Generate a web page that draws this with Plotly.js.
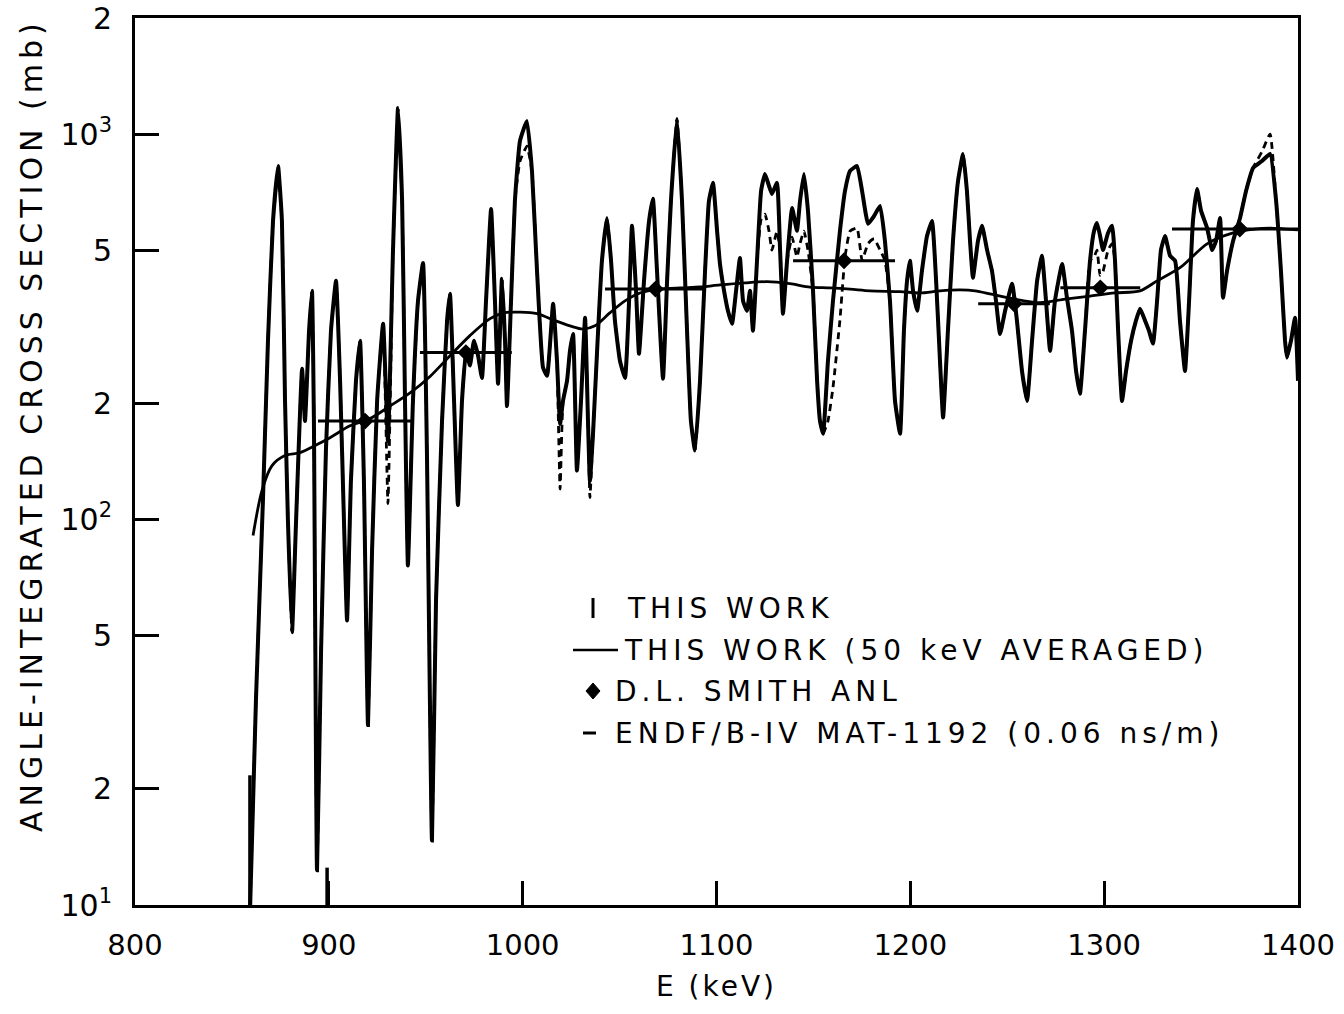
<!DOCTYPE html>
<html>
<head>
<meta charset="utf-8">
<script src="https://cdn.plot.ly/plotly-3.0.1.min.js"></script>
<style>
html,body{margin:0;padding:0;background:#fff;}
#chart{width:1344px;height:1014px;}
.xtitle{letter-spacing:3px;}
.annotation-text{letter-spacing:5px;}
</style>
</head>
<body>
<div id="chart"></div>
<script>
// ---- data ----
const thisWorkE = [859.3,862.4,866.0,868.6,871.2,873.8,875.8,877.4,878.9,881.0,883.1,886.2,887.7,889.8,891.3,892.3,893.9,896.0,898.5,901.1,903.7,905.8,907.8,909.4,911.4,914.0,916.1,918.1,920.2,922.3,924.9,928.0,930.5,933.1,935.7,937.8,939.3,940.8,943.4,946.0,948.6,950.6,953.2,955.3,958.4,961.0,962.5,964.6,966.6,968.7,970.8,972.8,974.9,977.0,979.0,981.1,983.7,985.7,987.3,989.3,990.9,991.9,994.0,996.0,998.6,1002.2,1004.8,1007.4,1010.5,1012.6,1015.7,1017.7,1019.3,1020.8,1022.9,1024.4,1026.0,1028.0,1030.1,1032.2,1033.7,1034.7,1036.3,1038.4,1040.9,1043.5,1045.6,1047.6,1050.2,1052.8,1054.9,1056.4,1058.5,1060.0,1062.6,1065.2,1067.2,1069.3,1072.4,1074.5,1076.5,1079.6,1082.2,1084.8,1086.8,1088.9,1091.5,1094.1,1096.1,1098.2,1100.3,1101.8,1103.9,1105.9,1108.0,1110.1,1112.1,1113.7,1115.7,1117.3,1118.8,1120.9,1123.0,1125.0,1127.1,1128.6,1131.2,1132.8,1134.3,1136.4,1139.0,1141.5,1143.1,1145.1,1147.2,1149.8,1151.9,1153.4,1155.0,1157.5,1160.1,1163.7,1166.3,1168.9,1172.5,1175.1,1178.2,1181.3,1184.4,1186.9,1189.5,1192.1,1194.7,1196.7,1198.3,1199.8,1201.4,1203.5,1206.0,1208.6,1211.2,1213.3,1215.3,1216.9,1219.4,1222.0,1224.6,1227.2,1229.2,1230.8,1232.3,1234.9,1237.0,1239.6,1242.1,1244.2,1246.3,1248.9,1252.5,1255.0,1257.6,1260.2,1262.8,1265.4,1267.9,1270.0,1272.1,1274.6,1278.3,1280.8,1283.4,1285.5,1287.5,1290.1,1292.7,1294.8,1296.3,1297.9,1299.4,1302.0,1304.1,1305.6,1307.2,1309.2,1311.3,1313.9,1316.4,1318.5,1321.1,1323.1,1325.2,1327.3,1329.3,1331.4,1334.0,1336.6,1339.1,1341.7,1343.8,1345.8,1347.9,1350.0,1353.1,1355.7,1357.7,1359.8,1361.3,1363.4,1366.5,1370.1,1373.2,1376.8,1381.4,1385.6,1388.7,1391.2,1393.3,1394.3,1396.4,1398.5,1400.0];
const thisWorkSigma = [9.5,34.0,112,291,595,826,595,203,99.4,51,99.4,246,180,309,392,180,12.3,45.8,151,309,416,229,99.4,54.7,126,229,291,126,29.3,83.1,203,322,160,498,1168,671,203,76,203,369,463,151,14.7,61.7,180,328,385,203,109,203,274,251,291,266,233,369,639,369,225,421,291,197,369,671,959,1081,802,442,248,236,363,258,177,203,229,274,303,134,203,334,180,126,167,274,469,606,469,328,258,233,369,578,392,269,416,595,679,442,232,416,671,1094,671,309,180,151,229,442,671,747,561,460,392,348,322,392,477,369,348,392,309,469,712,788,733,699,747,500,342,469,643,561,671,788,632,392,229,180,167,258,369,561,712,802,826,712,585,613,651,528,369,203,167,309,416,469,392,348,442,544,595,416,258,184,309,528,755,888,712,528,424,528,578,500,442,369,303,348,409,328,243,203,291,416,483,369,274,369,460,376,309,243,212,309,469,561,588,544,500,554,578,469,309,203,243,291,328,352,328,309,286,369,500,544,483,469,328,243,369,595,720,632,571,500,528,606,376,442,528,606,712,816,851,888,671,442,291,263,291,334,229];
const endfSigma = [9.5,34.0,112,291,595,800,595,203,99.4,51,99.4,246,180,309,392,180,12.3,45.8,151,309,416,229,99.4,54.7,126,229,291,126,29.3,83.1,203,322,110,498,1100,671,203,76,203,369,463,151,14.7,61.7,180,328,385,203,109,203,274,251,291,266,233,369,639,369,225,421,291,197,369,671,850,930,802,442,248,236,363,258,120,203,229,274,303,134,203,334,180,114,167,274,469,606,469,328,258,233,369,578,392,269,416,595,679,442,232,416,671,1094,671,309,180,151,229,442,671,747,561,460,392,348,322,392,477,369,348,392,309,469,600,620,560,500,560,500,342,469,540,480,520,560,500,392,229,180,167,180,220,330,480,560,570,470,520,535,500,470,369,203,167,309,416,469,392,348,442,544,595,416,258,184,309,528,755,888,712,528,424,528,578,500,442,369,303,348,409,328,243,203,291,416,483,369,274,369,460,376,309,243,212,309,469,480,500,430,440,500,520,469,309,203,243,291,328,352,328,309,286,369,500,544,483,469,328,243,369,595,720,632,571,500,528,606,376,442,528,606,712,816,900,1000,671,442,291,263,291,334,229];

// isolated data points of this work (error bars only)
const pointE = [859.3, 899.1];
const pointSigma = [14.7, 11.0];
const pointErrPlus = [7.0, 1.5];
const pointErrMinus = [4.7, 1.6];

// 50 keV averaged curve
const avgE = [860.9,865.5,870.7,877.4,885.1,892.9,900.6,910.9,921.2,931.6,941.9,952.2,962.5,972.8,983.2,990.9,998.6,1007.4,1016.7,1024.4,1031.1,1037.3,1045.1,1052.8,1060.5,1070.9,1081.2,1091.5,1101.8,1114.7,1126.1,1137.9,1148.2,1158.6,1168.9,1179.2,1194.7,1205.0,1215.3,1225.6,1233.4,1241.1,1251.4,1266.9,1279.8,1292.7,1305.6,1318.5,1327.3,1339.1,1353.1,1366.5,1377.8,1385.6,1393.3,1400.0];
const avgSigma = [90.9,118.9,138,146.5,149,155.5,163,175,182.7,197,213,235,266,300,332,344,345,342,328,318,312,318,344,369,387,396,399,401,406,411,414,409,401,399,396,392,390,387,392,394,392,385,375,365,373,380,387,392,416,450,519,554,567,570,567,564];

// D.L. Smith ANL
const smithE = [918.7, 970.7, 1068.5, 1165.8, 1253.5, 1298.0, 1370.0];
const smithSigma = [180, 271, 396, 469, 363, 399, 567];
const smithHalfWidth = [24.3, 23.7, 26.0, 26.3, 18.5, 20.6, 35.0];

// axis ticks
const xTickVals = [800, 900, 1000, 1100, 1200, 1300, 1400];
const yTickVals = [10, 20, 50, 100, 200, 500, 1000, 2000];
const yTickText = ['10<sup>1</sup>', '2', '5', '10<sup>2</sup>', '2', '5', '10<sup>3</sup>', '2'];

// titles and legend texts
const xTitle = 'E (keV)';
const yTitle = 'ANGLE-INTEGRATED CROSS SECTION (mb)';
const legendLabels = ['THIS WORK', 'THIS WORK (50 keV AVERAGED)', 'D.L. SMITH ANL', 'ENDF/B-IV MAT-1192 (0.06 ns/m)'];

// ---- chart ----
const FONT = 'DejaVu Sans, Liberation Sans, sans-serif';
const traces = [
  {x: thisWorkE, y: endfSigma, mode: 'lines', line: {color: '#000', width: 2.8, dash: '7px,5px', shape: 'spline', smoothing: 0.4}, hoverinfo: 'skip'},
  {x: thisWorkE, y: thisWorkSigma, mode: 'lines', line: {color: '#000', width: 4, shape: 'spline', smoothing: 0.4}, hoverinfo: 'skip'},
  {x: pointE, y: pointSigma, mode: 'markers', marker: {size: 1, color: '#000'},
   error_y: {type: 'data', symmetric: false, array: pointErrPlus, arrayminus: pointErrMinus, color: '#000', thickness: 3.5, width: 0}},
  {x: avgE, y: avgSigma, mode: 'lines', line: {color: '#000', width: 2.8, shape: 'spline', smoothing: 0.8}, hoverinfo: 'skip'},
  {x: smithE, y: smithSigma, mode: 'markers', marker: {symbol: 'diamond', size: 13, color: '#000'},
   error_x: {type: 'data', array: smithHalfWidth, color: '#000', thickness: 3, width: 0}}
];

const W = 1163, H = 887, L = 135, B = 905;
const px = v => (v - L) / W;
const py = v => (B - v) / H;
const rowY = [608, 650, 691, 733];
const textX = [625, 622, 613, 613];

const annotations = legendLabels.map((t, i) => ({
  text: t, xref: 'paper', yref: 'paper', x: px(textX[i]), y: py(rowY[i]),
  xanchor: 'left', yanchor: 'middle', showarrow: false,
  font: {family: FONT, size: 28, color: '#000'}
}));
// vertical axis title, placed where the reference draws it
annotations.push({
  text: yTitle, xref: 'paper', yref: 'paper', x: px(31), y: py(425),
  xanchor: 'center', yanchor: 'middle', textangle: -90, showarrow: false,
  font: {family: FONT, size: 30, color: '#000'}
});

const dX = 7 / W, dY = 8 / H;
const shapes = [
  {type: 'line', xref: 'paper', yref: 'paper', x0: px(593), x1: px(593), y0: py(618), y1: py(598), line: {color: '#000', width: 3}},
  {type: 'line', xref: 'paper', yref: 'paper', x0: px(573), x1: px(618), y0: py(650), y1: py(650), line: {color: '#000', width: 2.6}},
  {type: 'path', xref: 'paper', yref: 'paper', fillcolor: '#000', line: {color: '#000', width: 1},
   path: `M ${px(593)},${py(691) + dY} L ${px(593) + dX},${py(691)} L ${px(593)},${py(691) - dY} L ${px(593) - dX},${py(691)} Z`},
  {type: 'line', xref: 'paper', yref: 'paper', x0: px(583), x1: px(596), y0: py(733), y1: py(733), line: {color: '#000', width: 3}}
];

const layout = {
  width: 1344, height: 1014,
  margin: {l: 135, r: 46, t: 18, b: 109},
  paper_bgcolor: '#fff', plot_bgcolor: '#fff',
  showlegend: false,
  font: {family: FONT, color: '#000'},
  xaxis: {
    range: [800, 1400], tickvals: xTickVals, ticks: 'inside', ticklen: 24, tickwidth: 3, tickcolor: '#000',
    showline: true, linewidth: 3, linecolor: '#000', mirror: true, showgrid: false, zeroline: false,
    tickfont: {family: FONT, size: 29, color: '#000'}, ticklabelstandoff: 12,
    title: {text: xTitle, font: {family: FONT, size: 28, color: '#000'}, standoff: 16}
  },
  yaxis: {
    type: 'log', range: [1, Math.log10(2000)], tickvals: yTickVals, ticktext: yTickText,
    ticks: 'inside', ticklen: 24, tickwidth: 3, tickcolor: '#000',
    showline: true, linewidth: 3, linecolor: '#000', mirror: true, showgrid: false, zeroline: false,
    tickfont: {family: FONT, size: 30, color: '#000'}, ticklabelstandoff: 14
  },
  annotations: annotations,
  shapes: shapes
};

Plotly.newPlot('chart', traces, layout, {displayModeBar: false, staticPlot: true});
</script>
</body>
</html>
